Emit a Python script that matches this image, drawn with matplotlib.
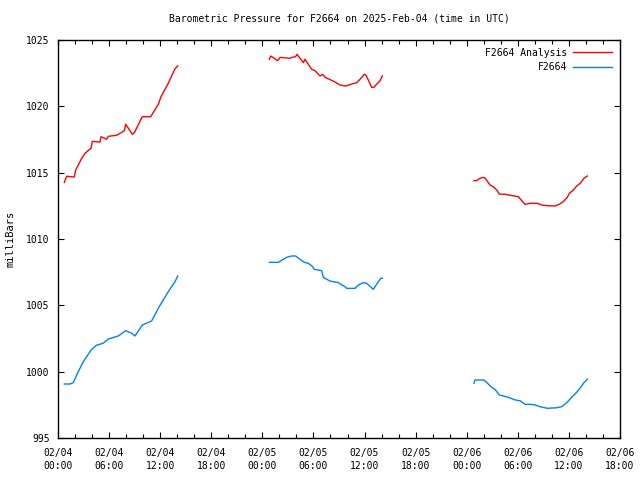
import numpy as np
import matplotlib
matplotlib.use('Agg')
import matplotlib.pyplot as plt

# hours since 02/04 00:00 UTC, pressure in mb (three separate runs each)
analysis_hours = [
    [0.74, 1.02, 1.91, 2.08, 2.78, 3.17, 3.88, 4.03, 4.93, 5.05, 5.72, 5.91, 6.9,
     7.79, 7.95, 8.73, 8.96, 9.9, 10.89, 11.78, 12.1, 12.95, 13.74, 14.06],
    [24.82, 24.98, 25.29, 25.8, 26.07, 27.25, 27.44, 27.9, 28.07, 28.42, 28.81, 29.0,
     29.79, 30.18, 30.77, 31.08, 31.36, 32.06, 32.53, 33.12, 33.79, 34.49, 35.08,
     35.47, 35.97, 36.17, 36.84, 37.08, 37.82, 38.09],
    [48.85, 49.17, 49.56, 50.03, 50.26, 50.73, 51.12, 51.52, 51.83, 52.5, 53.4, 54.06,
     54.46, 54.85, 55.43, 56.29, 56.81, 57.46, 58.37, 58.87, 59.34, 59.81, 60.05,
     60.52, 60.92, 61.39, 61.77, 62.16],
]
analysis_mb = [
    [1014.27, 1014.73, 1014.67, 1015.2, 1016.08, 1016.46, 1016.84, 1017.36, 1017.31,
     1017.71, 1017.52, 1017.74, 1017.82, 1018.16, 1018.65, 1017.89, 1018.01, 1019.22,
     1019.22, 1020.15, 1020.73, 1021.74, 1022.83, 1023.04],
    [1023.55, 1023.79, 1023.67, 1023.44, 1023.69, 1023.62, 1023.69, 1023.74, 1023.92,
     1023.62, 1023.29, 1023.55, 1022.79, 1022.69, 1022.29, 1022.41, 1022.19, 1021.98,
     1021.83, 1021.61, 1021.53, 1021.68, 1021.78, 1022.04, 1022.41, 1022.36, 1021.43,
     1021.43, 1021.93, 1022.29],
    [1014.4, 1014.4, 1014.58, 1014.65, 1014.5, 1014.07, 1013.94, 1013.69, 1013.39,
     1013.37, 1013.26, 1013.19, 1012.89, 1012.61, 1012.69, 1012.69, 1012.56, 1012.51,
     1012.49, 1012.62, 1012.81, 1013.14, 1013.44, 1013.69, 1013.99, 1014.24, 1014.58,
     1014.75],
]

station_hours = [
    [0.74, 1.41, 1.79, 2.38, 2.97, 3.88, 4.54, 5.31, 5.91, 7.08, 7.95, 8.65, 9.04,
     9.9, 11.0, 11.78, 12.95, 13.74, 14.06],
    [24.82, 25.87, 26.46, 26.86, 27.44, 27.9, 28.42, 28.93, 29.4, 29.91, 30.07, 30.97,
     31.16, 31.94, 32.92, 33.71, 33.9, 34.88, 35.27, 35.85, 36.25, 37.03, 37.62, 37.9,
     38.09],
    [48.85, 48.97, 50.03, 50.53, 50.93, 51.32, 51.83, 52.3, 53.0, 53.67, 54.26, 54.85,
     55.43, 56.02, 56.61, 57.46, 58.57, 59.15, 59.74, 60.33, 60.92, 61.39, 61.77, 62.16],
]
station_mb = [
    [999.07, 999.07, 999.17, 1000.0, 1000.75, 1001.63, 1002.0, 1002.14, 1002.46,
     1002.69, 1003.09, 1002.9, 1002.69, 1003.52, 1003.82, 1004.78, 1006.03, 1006.78,
     1007.21],
    [1008.24, 1008.24, 1008.47, 1008.62, 1008.72, 1008.72, 1008.47, 1008.24, 1008.17,
     1007.91, 1007.72, 1007.61, 1007.11, 1006.83, 1006.71, 1006.4, 1006.28, 1006.28,
     1006.53, 1006.71, 1006.66, 1006.21, 1006.78, 1007.04, 1007.04],
    [999.12, 999.37, 999.37, 999.07, 998.82, 998.67, 998.24, 998.17, 998.04, 997.87,
     997.81, 997.54, 997.54, 997.49, 997.36, 997.24, 997.28, 997.36, 997.66, 998.07,
     998.45, 998.82, 999.17, 999.42],
]

tick_hours = list(range(0, 67, 6))
tick_labels = ['02/04\n00:00', '02/04\n06:00', '02/04\n12:00', '02/04\n18:00',
               '02/05\n00:00', '02/05\n06:00', '02/05\n12:00', '02/05\n18:00',
               '02/06\n00:00', '02/06\n06:00', '02/06\n12:00', '02/06\n18:00']


def join_runs(runs):
    # NaN between runs so the line breaks over the gaps
    out = []
    for r in runs:
        out.extend(r)
        out.append(np.nan)
    return out[:-1]


plt.rcParams['font.family'] = 'DejaVu Sans Mono'
plt.rcParams['font.size'] = 7

fig = plt.figure(figsize=(6.4, 4.8), dpi=100)
ax = fig.add_axes([58 / 640, 42 / 480, 562 / 640, 398 / 480])

ax.plot(join_runs(analysis_hours), join_runs(analysis_mb), color='#ff0000', lw=1,
        label='F2664 Analysis')
ax.plot(join_runs(station_hours), join_runs(station_mb), color='#0080ff', lw=1,
        label='F2664')

ax.set_xlim(0, 66)
ax.set_ylim(995, 1025)
ax.set_xticks(tick_hours)
ax.set_xticklabels(tick_labels, linespacing=1.45)
ax.set_xticks(range(0, 67, 2), minor=True)
ax.set_yticks(range(995, 1026, 5))

ax.tick_params(which='both', direction='in', top=True, right=True, width=0.8)
ax.tick_params(which='major', length=4)
ax.tick_params(which='minor', length=3)
ax.tick_params(axis='x', which='major', pad=7)
ax.tick_params(axis='y', which='major', pad=6)
for s in ax.spines.values():
    s.set_linewidth(1)

ax.set_ylabel('milliBars', fontsize=7.5)
ax.yaxis.set_label_coords(-42 / 562, 0.5)
ax.set_title('Barometric Pressure for F2664 on 2025-Feb-04 (time in UTC)',
             fontsize=7, pad=13)
ax.legend(loc='upper right', frameon=False, markerfirst=False, handlelength=4,
          borderaxespad=0.4, labelspacing=0.45, handletextpad=0.6)

fig.savefig('out.png', dpi=100)
